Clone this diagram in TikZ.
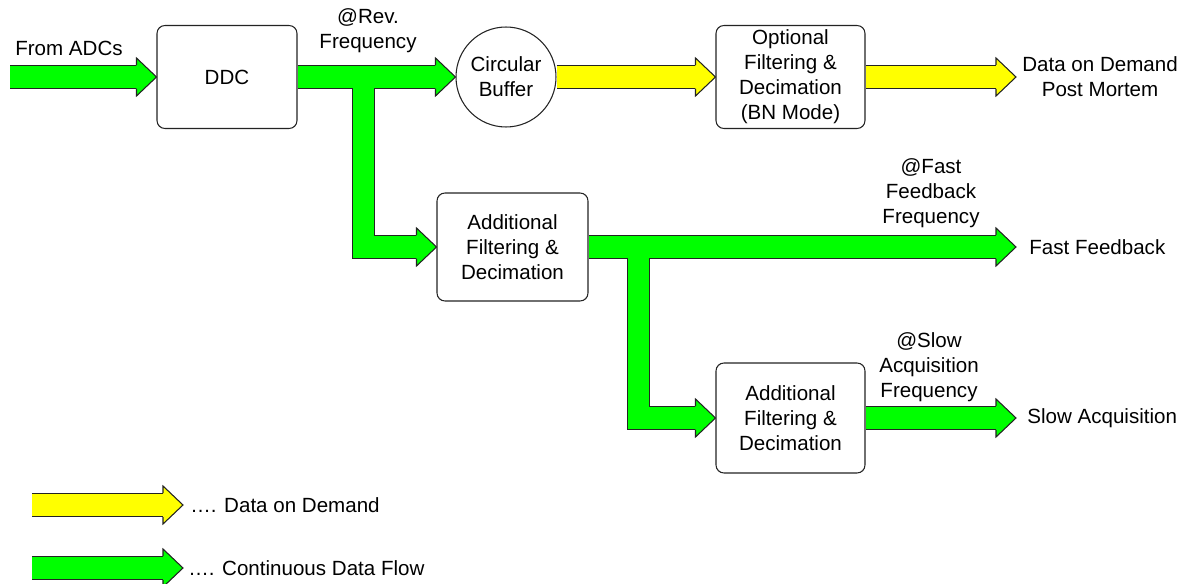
\documentclass[tikz,border=0pt]{standalone}
\usepackage{fontspec}
\setmainfont{Liberation Sans}
\usepackage{tikz}
\usetikzlibrary{calc,backgrounds}
\definecolor{fGreen}{RGB}{0,255,0}
\definecolor{fYellow}{RGB}{255,255,0}
\definecolor{fLine}{RGB}{35,35,35}

% arrow head of a flow band: tip, colour
\newcommand{\flowhead}[2]{%
  \fill[#2] ($(#1)+(-20,19)$) -- (#1) -- ($(#1)+(-20,-19)$) -- cycle;
  \draw[fLine, line width=0.6pt, line join=miter]
    ($(#1)+(-20,12)$) -- ($(#1)+(-20,19)$) -- (#1) -- ($(#1)+(-20,-19)$) -- ($(#1)+(-20,-12)$);
}

\begin{document}
\begin{tikzpicture}[
    x=0.02cm, y=-0.02cm,
    font=\fontsize{11.7}{14.2}\selectfont,
    blk/.style={draw=fLine, line width=0.6pt, fill=white, rounded corners=4.5pt, align=center, inner sep=0pt},
    lbl/.style={align=center, inner sep=0pt},
    bandout/.style={fLine, line width=13.6pt, line join=miter},
    bandin/.style={line width=12.4pt, line join=miter}
]
  \useasboundingbox (0,0) rectangle (1181,584);

  \node[blk, minimum width=2.8cm, minimum height=2.06cm] (ddc) at (227,77) {DDC};
  \node[blk, circle, rounded corners=0pt, minimum size=2cm] (buf) at (506,77) {Circular\\Buffer};
  \node[blk, minimum width=2.98cm, minimum height=2.06cm] (opt) at (790.5,77) {Optional\\Filtering \&\\Decimation\\(BN Mode)};
  \node[blk, minimum width=3.02cm, minimum height=2.16cm] (filt1) at (512.5,247) {Additional\\Filtering \&\\Decimation};
  \node[blk, minimum width=2.98cm, minimum height=2.2cm] (filt2) at (790.5,418) {Additional\\Filtering \&\\Decimation};

  \coordinate (adcin) at (10,77);
  \coordinate (tap1) at (363.5,77);
  \coordinate (tap2) at (638.5,247);
  \coordinate (podend) at (1016,77);
  \coordinate (ffend) at (1016,247);
  \coordinate (saend) at (1016,418);
  \coordinate (keyy) at (32,505);
  \coordinate (keyg) at (32,568);

  \node[lbl] (adclbl) at (69,48) {From ADCs};
  \node[lbl] (revlbl) at (368,31) {@Rev.\\Frequency};
  \node[lbl] (fflbl) at (931,193) {@Fast\\Feedback\\Frequency};
  \node[lbl] (salbl) at (929,367) {@Slow\\Acquisition\\Frequency};
  \node[lbl, anchor=west] (pod) at ($(podend)+(6,0)$) {Data on Demand\\Post Mortem};
  \node[lbl, anchor=west] (ff) at ($(ffend)+(13,0)$) {Fast Feedback};
  \node[lbl, anchor=west] (sa) at ($(saend)+(11,0)$) {Slow Acquisition};
  \node[lbl, anchor=west] (keydod) at (190,505) {…. Data on Demand};
  \node[lbl, anchor=west] (keycdf) at (188,568) {…. Continuous Data Flow};

  \begin{scope}[on background layer]
    % outlines first, then the fill, so that junctions stay open
    \foreach \pass/\col in {bandout/fLine, bandin/fGreen} {
      \draw[\pass, \col] (adcin) -- ($(ddc.west)+(-19,0)$);
      \draw[\pass, \col] (ddc.east) -- ($(buf.west)+(-19,0)$);
      \draw[\pass, \col] (tap1) |- ($(filt1.west)+(-19,0)$);
      \draw[\pass, \col] (filt1.east) -- ($(ffend)+(-19,0)$);
      \draw[\pass, \col] (tap2) |- ($(filt2.west)+(-19,0)$);
      \draw[\pass, \col] (filt2.east) -- ($(saend)+(-19,0)$);
      \draw[\pass, \col] (keyg) -- ($(keycdf.west)+(-24,0)$);
    }
    \foreach \pass/\col in {bandout/fLine, bandin/fYellow} {
      \draw[\pass, \col] (buf.east) -- ($(opt.west)+(-19,0)$);
      \draw[\pass, \col] (opt.east) -- ($(podend)+(-19,0)$);
      \draw[\pass, \col] (keyy) -- ($(keydod.west)+(-26,0)$);
    }
    \flowhead{ddc.west}{fGreen}
    \flowhead{buf.west}{fGreen}
    \flowhead{filt1.west}{fGreen}
    \flowhead{ffend}{fGreen}
    \flowhead{filt2.west}{fGreen}
    \flowhead{saend}{fGreen}
    \flowhead{opt.west}{fYellow}
    \flowhead{podend}{fYellow}
    \flowhead{$(keydod.west)+(-7,0)$}{fYellow}
    \flowhead{$(keycdf.west)+(-5,0)$}{fGreen}
  \end{scope}
\end{tikzpicture}
\end{document}
